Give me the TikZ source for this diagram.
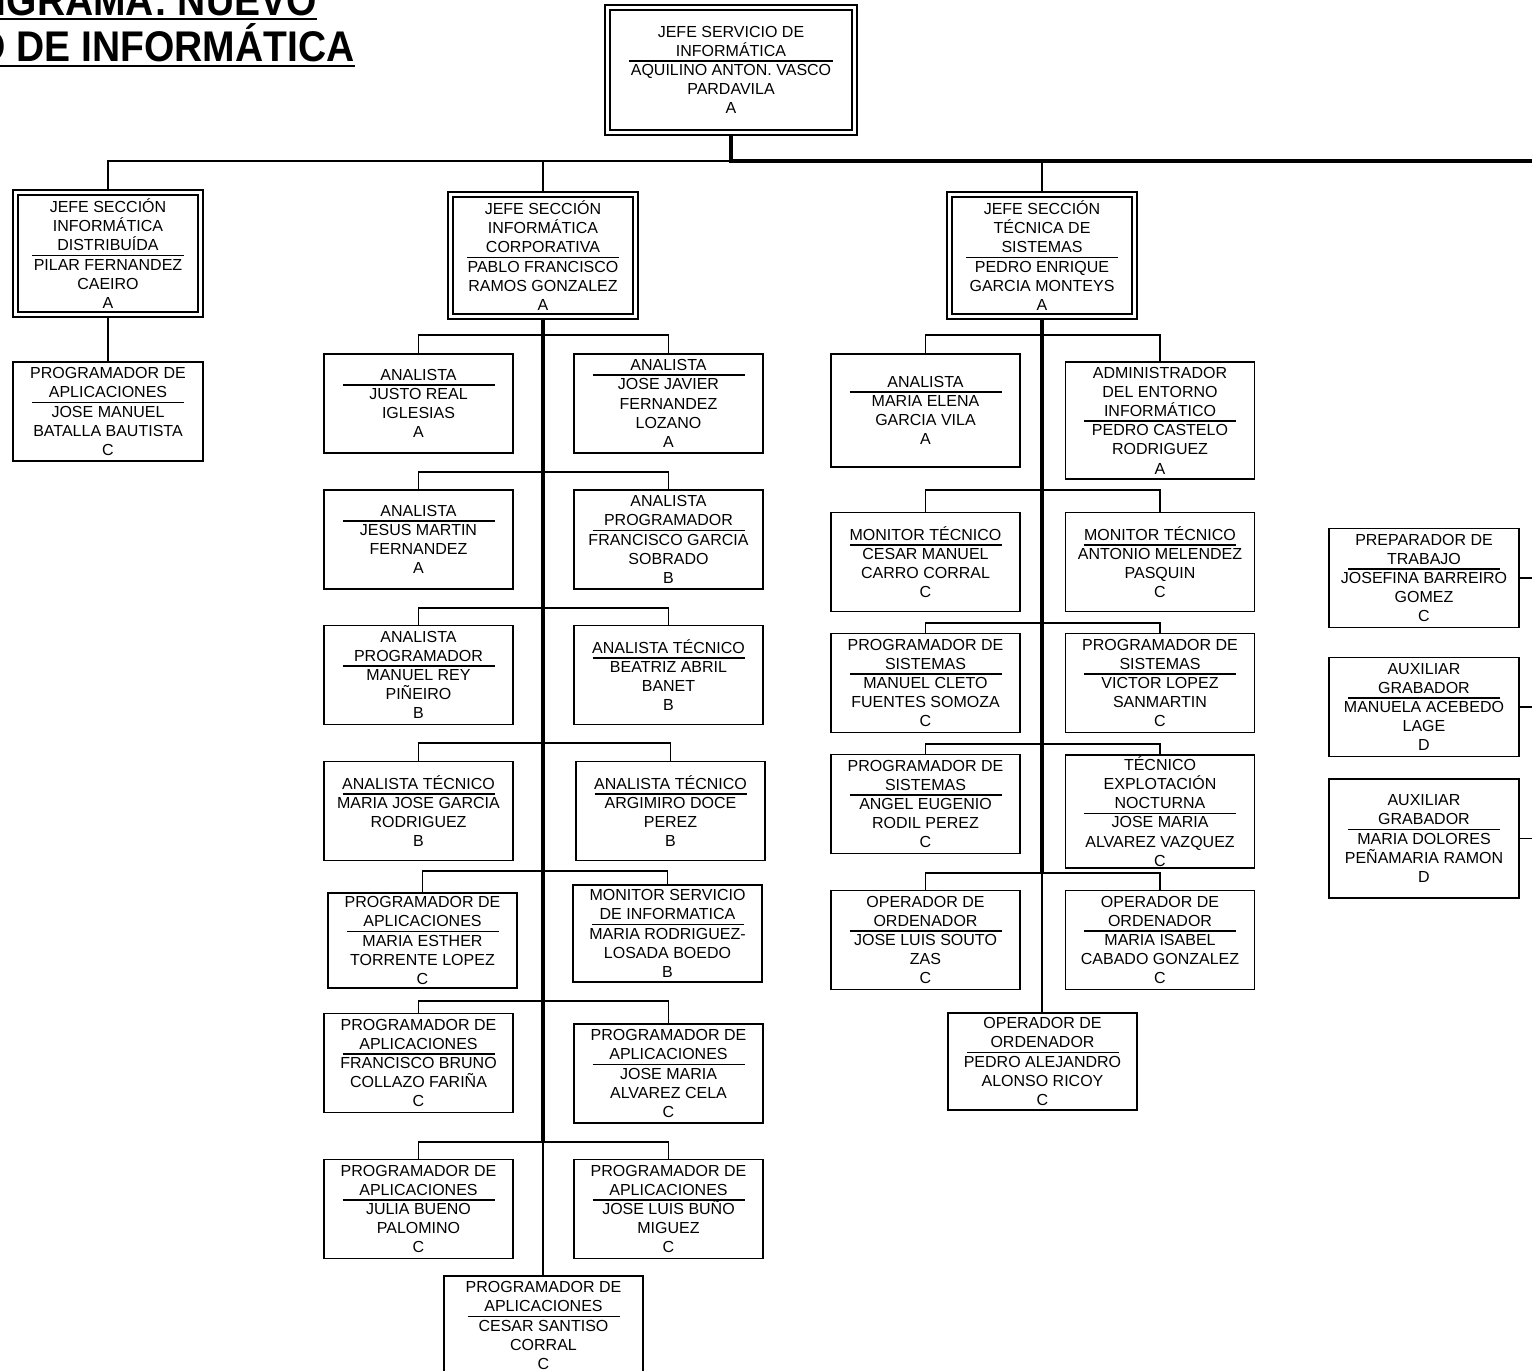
\documentclass[tikz,border=0pt]{standalone}
\usepackage{fontspec}
\setmainfont{Liberation Sans}
\usepackage{tikz}

% raya entre cargo y nombre
\newcommand{\raya}[1][76pt]{\\[-6.8pt]\rule{#1}{0.9pt}\\[-2.8pt]}

\begin{document}
\begin{tikzpicture}[x=0.5pt,y=-0.5pt,
		font=\fontsize{8pt}{9.6pt}\selectfont,
		caja/.style={draw, line width=0.75pt, inner sep=0pt, align=center, minimum width=94.5pt, minimum height=49.5pt},
		jefe/.style={caja, double, double distance=1.7pt, line width=0.8pt, outer sep=1.65pt, minimum width=92.5pt, minimum height=61pt},
		titulo/.style={anchor=base east, inner sep=0pt, font=\fontsize{19.5pt}{22pt}\bfseries\selectfont},
		enlace/.style={line width=0.8pt},
		tronco/.style={line width=1.8pt}]
			\useasboundingbox (0,0) rectangle (1532,1371);
			\clip (0,0) rectangle (1532,1371);
			\fill[white] (0,0) rectangle (1532,1371);

			% titulo
			\node	(tit1) at (317,15) [titulo] {\scalebox{1}[1.1]{NIGRAMA: NUEVO}};
			\node	(tit2) at (355,61.7) [titulo] {\scalebox{1}[1.1]{O DE INFORMÁTICA}};
			\draw[line width=1.2pt] ([yshift=-2pt]tit1.base west) -- ([yshift=-2pt]tit1.base east);
			\draw[line width=1.2pt] ([yshift=-2pt]tit2.base west) -- ([yshift=-2pt]tit2.base east);

			% jefaturas
			\node	(jse) at (731,70) [jefe, minimum width=123.5pt, minimum height=62.5pt] {JEFE SERVICIO DE\\INFORMÁTICA\raya[102pt]AQUILINO ANTON. VASCO\\PARDAVILA\\A};
			\node	(jdi) at (108,253.5) [jefe] {JEFE SECCIÓN\\INFORMÁTICA\\DISTRIBUÍDA\raya PILAR FERNANDEZ\\CAEIRO\\A};
			\node	(jco) at (543,255.5) [jefe] {JEFE SECCIÓN\\INFORMÁTICA\\CORPORATIVA\raya PABLO FRANCISCO\\RAMOS GONZALEZ\\A};
			\node	(jte) at (1042,255.5) [jefe] {JEFE SECCIÓN\\TÉCNICA DE\\SISTEMAS\raya PEDRO ENRIQUE\\GARCIA MONTEYS\\A};

			% informatica distribuida
			\node	(pa) at (108,411.5) [caja, minimum width=95pt] {PROGRAMADOR DE\\APLICACIONES\raya JOSE MANUEL\\BATALLA BAUTISTA\\C};

			% informatica corporativa
			\node	(cL1) at (418.5,403.5) [caja] {ANALISTA\raya JUSTO REAL\\IGLESIAS\\A};
			\node	(cR1) at (668.5,403.5) [caja] {ANALISTA\raya JOSE JAVIER\\FERNANDEZ\\LOZANO\\A};
			\node	(cL2) at (418.5,539.5) [caja] {ANALISTA\raya JESUS MARTIN\\FERNANDEZ\\A};
			\node	(cR2) at (668.5,539.5) [caja] {ANALISTA\\PROGRAMADOR\raya FRANCISCO GARCIA\\SOBRADO\\B};
			\node	(cL3) at (418.5,675) [caja] {ANALISTA\\PROGRAMADOR\raya MANUEL REY\\PIÑEIRO\\B};
			\node	(cR3) at (668.5,675) [caja] {ANALISTA TÉCNICO\raya BEATRIZ ABRIL\\BANET\\B};
			\node	(cL4) at (418.5,811) [caja] {ANALISTA TÉCNICO\raya MARIA JOSE GARCIA\\RODRIGUEZ\\B};
			\node	(cR4) at (670.5,811) [caja] {ANALISTA TÉCNICO\raya ARGIMIRO DOCE\\PEREZ\\B};
			\node	(cL5) at (422.5,940.5) [caja, minimum height=47.5pt] {PROGRAMADOR DE\\APLICACIONES\raya MARIA ESTHER\\TORRENTE LOPEZ\\C};
			\node	(cR5) at (667.5,933.5) [caja, minimum height=48.5pt] {MONITOR SERVICIO\\DE INFORMATICA\raya MARIA RODRIGUEZ-\\LOSADA BOEDO\\B};
			\node	(cL6) at (418.5,1063) [caja] {PROGRAMADOR DE\\APLICACIONES\raya FRANCISCO BRUNO\\COLLAZO FARIÑA\\C};
			\node	(cR6) at (668.5,1073.5) [caja] {PROGRAMADOR DE\\APLICACIONES\raya JOSE MARIA\\ALVAREZ CELA\\C};
			\node	(cL7) at (418.5,1209) [caja] {PROGRAMADOR DE\\APLICACIONES\raya JULIA BUENO\\PALOMINO\\C};
			\node	(cR7) at (668.5,1209) [caja] {PROGRAMADOR DE\\APLICACIONES\raya JOSE LUIS BUÑO\\MIGUEZ\\C};
			\node	(c8) at (543.5,1325.5) [caja, minimum width=99.5pt] {PROGRAMADOR DE\\APLICACIONES\raya CESAR SANTISO\\CORRAL\\C};

			% tecnica de sistemas
			\node	(tL1) at (925.5,410.5) [caja, minimum height=56.5pt] {ANALISTA\raya MARIA ELENA\\GARCIA VILA\\A};
			\node	(tR1) at (1160,420.5) [caja, minimum height=58.5pt] {ADMINISTRADOR\\DEL ENTORNO\\INFORMÁTICO\raya PEDRO CASTELO\\RODRIGUEZ\\A};
			\node	(tL2) at (925.5,562) [caja] {MONITOR TÉCNICO\raya CESAR MANUEL\\CARRO CORRAL\\C};
			\node	(tR2) at (1160,562) [caja] {MONITOR TÉCNICO\raya ANTONIO MELENDEZ\\PASQUIN\\C};
			\node	(tL3) at (925.5,683) [caja] {PROGRAMADOR DE\\SISTEMAS\raya MANUEL CLETO\\FUENTES SOMOZA\\C};
			\node	(tR3) at (1160,683) [caja] {PROGRAMADOR DE\\SISTEMAS\raya VICTOR LOPEZ\\SANMARTIN\\C};
			\node	(tL4) at (925.5,804) [caja] {PROGRAMADOR DE\\SISTEMAS\raya ANGEL EUGENIO\\RODIL PEREZ\\C};
			\node	(tR4) at (1160,811.5) [caja, minimum height=56.5pt] {TÉCNICO\\EXPLOTACIÓN\\NOCTURNA\raya JOSE MARIA\\ALVAREZ VAZQUEZ\\C};
			\node	(tL5) at (925.5,940) [caja] {OPERADOR DE\\ORDENADOR\raya JOSE LUIS SOUTO\\ZAS\\C};
			\node	(tR5) at (1160,940) [caja] {OPERADOR DE\\ORDENADOR\raya MARIA ISABEL\\CABADO GONZALEZ\\C};
			\node	(t6) at (1042.5,1061.5) [caja, minimum height=48.5pt] {OPERADOR DE\\ORDENADOR\raya PEDRO ALEJANDRO\\ALONSO RICOY\\C};

			% grupo derecho
			\node	(r1) at (1424,578) [caja, minimum width=95pt] {PREPARADOR DE\\TRABAJO\raya JOSEFINA BARREIRO\\GOMEZ\\C};
			\node	(r2) at (1424,707) [caja, minimum width=95pt] {AUXILIAR\\GRABADOR\raya MANUELA ACEBEDO\\LAGE\\D};
			\node	(r3) at (1424,838.5) [caja, minimum width=95pt, minimum height=59.5pt] {AUXILIAR\\GRABADOR\raya MARIA DOLORES\\PEÑAMARIA RAMON\\D};

			% puntos de union
			\coordinate (h0) at (731,161);
			\coordinate (fin) at (1532,161);
			\coordinate (cr1) at (543,335);
			\coordinate (cr2) at (543,472);
			\coordinate (cr3) at (543,608);
			\coordinate (cr4) at (543,743);
			\coordinate (cr5) at (543,871);
			\coordinate (cr6) at (543,1001);
			\coordinate (cr7) at (543,1142);
			\coordinate (tr1) at (1042,335);
			\coordinate (tr2) at (1042,490);
			\coordinate (tr3) at (1042,623);
			\coordinate (tr4) at (1042,744);
			\coordinate (tr5) at (1042,873);

			% lineas
			\draw[tronco] (jse.south) -- (h0) -- (fin);
			\draw[enlace]
			(h0) -| (jdi.north)
			(h0) -| (jco.north)
			(h0) -| (jte.north)
			(jdi.south) -- (pa.north)
			;
			\draw[tronco] (jco.south) -- (cr7);
			\draw[enlace]
			(cL1.north) |- (cr1) -| (cR1.north)
			(cL2.north) |- (cr2) -| (cR2.north)
			(cL3.north) |- (cr3) -| (cR3.north)
			(cL4.north) |- (cr4) -| (cR4.north)
			(cL5.north) |- (cr5) -| (cR5.north)
			(cL6.north) |- (cr6) -| (cR6.north)
			(cL7.north) |- (cr7) -| (cR7.north)
			(cr7) -- (cr7 |- c8.north)
			;
			\draw[tronco] (jte.south) -- (tr5);
			\draw[enlace]
			(tL1.north) |- (tr1) -| (tR1.north)
			(tL2.north) |- (tr2) -| (tR2.north)
			(tL3.north) |- (tr3) -| (tR3.north)
			(tL4.north) |- (tr4) -| (tR4.north)
			(tL5.north) |- (tr5) -| (tR5.north)
			(tr5) -- (tr5 |- t6.north)
			;
			\draw[enlace]
			(r1.east) -- (r1.east -| fin)
			(r2.east) -- (r2.east -| fin)
			(r3.east) -- (r3.east -| fin)
			;
\end{tikzpicture}
\end{document}
